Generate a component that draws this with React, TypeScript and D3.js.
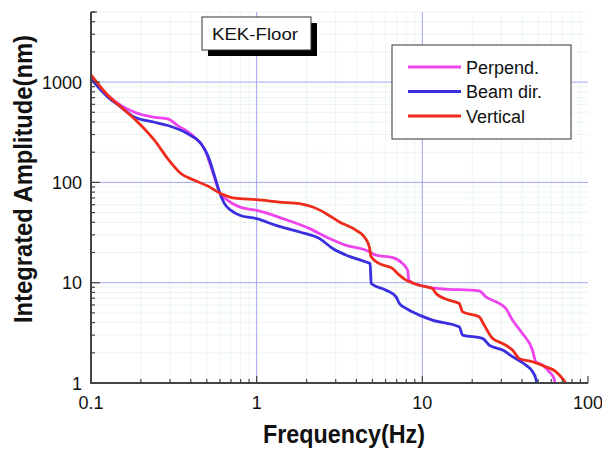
import React from "react";
import * as d3 from "d3";

// ---- Data ----
const perpFreq = [0.1, 0.1266, 0.1522, 0.1834, 0.242, 0.291, 0.334, 0.4215, 0.4842, 0.543, 0.596, 0.669, 0.768, 0.867, 1.0, 1.44, 2.09, 2.63, 3.47, 4.58, 5.26, 6.62, 7.61, 8.15, 8.3, 9.59, 12.7, 22.0, 24.2, 29.1, 31.9, 35.0, 40.2, 46.2, 48.4, 53.1, 58.2, 62.4, 63.1];
const perpAmp = [1116, 734, 583, 501, 446, 430, 369, 282, 216, 127, 80.1, 66.2, 58, 54.7, 52.6, 43.5, 34.6, 28.6, 23.6, 21.1, 18.8, 17.8, 15.5, 13.3, 10.6, 9.44, 8.75, 8.28, 7.22, 6.21, 5.54, 4.24, 3.12, 2.13, 1.63, 1.51, 1.3, 1.11, 1.0];

const beamFreq = [0.1, 0.1266, 0.1522, 0.1834, 0.242, 0.291, 0.384, 0.4617, 0.507, 0.556, 0.596, 0.639, 0.7, 0.79, 1.0, 1.31, 1.82, 2.4, 2.88, 3.47, 4.58, 4.84, 4.91, 6.04, 6.94, 7.27, 7.98, 9.59, 11.5, 16.7, 17.5, 23.1, 25.3, 30.5, 35.0, 42.1, 46.2, 48.4, 49.1];
const beamAmp = [1076, 706, 561, 446, 398, 369, 305, 243, 186, 117, 80.1, 61.4, 52.6, 47.0, 43.5, 37.3, 32.0, 27.5, 21.9, 18.8, 16.1, 15.5, 9.82, 8.42, 7.22, 6.21, 5.54, 4.75, 4.24, 3.63, 3.0, 2.79, 2.39, 2.13, 1.83, 1.51, 1.3, 1.11, 1.0];

const vertFreq = [0.1, 0.1266, 0.1522, 0.1919, 0.242, 0.291, 0.35, 0.4215, 0.507, 0.6095, 0.734, 1.0, 1.376, 1.816, 2.18, 2.63, 3.16, 3.99, 4.47, 4.79, 4.91, 5.51, 6.62, 7.27, 7.98, 9.59, 11.5, 12.1, 14.5, 16.7, 17.5, 22.0, 23.6, 26.5, 30.5, 35.0, 38.4, 46.2, 55.6, 63.9, 70.0, 73.4];
const vertAmp = [1179, 734, 561, 398, 262, 172, 122, 105, 91.9, 77.2, 69.8, 67.3, 63.7, 61.4, 56.8, 48.8, 40.3, 33.3, 28.6, 22.7, 18.1, 15.5, 13.8, 11.9, 10.6, 9.44, 8.75, 7.81, 6.7, 6.21, 5.12, 4.57, 3.78, 2.79, 2.48, 2.13, 1.76, 1.63, 1.45, 1.3, 1.11, 1.0];

const seriesNames = ["Perpend.", "Beam dir.", "Vertical"];
const seriesColors = ["#ee44ee", "#3a2fe0", "#ee2c1c"];

const xTickValues = [0.1, 1, 10, 100];
const xTickLabels = ["0.1", "1", "10", "100"];
const yTickValues = [1, 10, 100, 1000];
const yTickLabels = ["1", "10", "100", "1000"];

const xTitle = "Frequency(Hz)";
const yTitle = "Integrated Amplitude(nm)";
const boxLabel = "KEK-Floor";

export default function App() {
  const W = 602, H = 451;
  const left = 91, right = 588, top = 12, bottom = 383;
  const x = d3.scaleLog().domain([0.1, 100]).range([left, right]);
  const y = d3.scaleLog().domain([1, 5000]).range([bottom, top]);

  const xMinor = x.ticks().filter((v) => !xTickValues.some((m) => Math.abs(m - v) / m < 1e-6));
  const yMinor = y.ticks().filter((v) => !yTickValues.some((m) => Math.abs(m - v) / m < 1e-6));

  const line = d3
    .line<[number, number]>()
    .x((d) => x(d[0]))
    .y((d) => y(d[1]))
    .curve(d3.curveMonotoneX);

  const series = [
    { name: seriesNames[0], color: seriesColors[0], pts: perpFreq.map((f, i) => [f, perpAmp[i]] as [number, number]) },
    { name: seriesNames[1], color: seriesColors[1], pts: beamFreq.map((f, i) => [f, beamAmp[i]] as [number, number]) },
    { name: seriesNames[2], color: seriesColors[2], pts: vertFreq.map((f, i) => [f, vertAmp[i]] as [number, number]) },
  ];
  const font = "'Liberation Sans', Arial, Helvetica, sans-serif";
  const minorGrid = "#ebf7eb";
  const majorGrid = "#a4a4ee";
  const axisColor = "#444";

  return (
    <svg width={W} height={H} style={{ position: "absolute", left: 0, top: 0, background: "#fff" }} fontFamily={font}>
      <rect x={0} y={0} width={W} height={H} fill="#fff" />
      {/* minor grid */}
      {xMinor.map((v, i) => (
        <line key={"xm" + i} x1={x(v)} x2={x(v)} y1={top} y2={bottom} stroke={minorGrid} strokeWidth={1} />
      ))}
      {yMinor.map((v, i) => (
        <line key={"ym" + i} x1={left} x2={right} y1={y(v)} y2={y(v)} stroke={minorGrid} strokeWidth={1} />
      ))}
      {/* major grid */}
      {xTickValues.slice(1, 3).map((v, i) => (
        <line key={"xM" + i} x1={x(v)} x2={x(v)} y1={top} y2={bottom} stroke={majorGrid} strokeWidth={1} />
      ))}
      {yTickValues.slice(1).map((v, i) => (
        <line key={"yM" + i} x1={left} x2={right} y1={y(v)} y2={y(v)} stroke={majorGrid} strokeWidth={1} />
      ))}

      {/* KEK-Floor box */}
      <rect x={208} y={23} width={109} height={33} fill="#000" />
      <rect x={202} y={17} width={109} height={33} fill="#fff" stroke="#333" strokeWidth={1} />
      <text x={212} y={40} fontSize={16} fill="#111" textLength={86} lengthAdjust="spacingAndGlyphs">
        {boxLabel}
      </text>

      {/* curves */}
      {series.map((s) => (
        <path key={s.name} d={line(s.pts) || ""} fill="none" stroke={s.color} strokeWidth={2.8} strokeLinejoin="round" />
      ))}

      {/* axes */}
      <line x1={left} x2={left} y1={top} y2={bottom + 1} stroke={axisColor} strokeWidth={2} />
      <line x1={left - 1} x2={right} y1={bottom} y2={bottom} stroke={axisColor} strokeWidth={2} />
      {xMinor.map((v, i) => (
        <line key={"xt" + i} x1={x(v)} x2={x(v)} y1={bottom} y2={bottom - 4} stroke={axisColor} strokeWidth={1.2} />
      ))}
      {xTickValues.map((v, i) => (
        <line key={"xT" + i} x1={x(v)} x2={x(v)} y1={bottom} y2={bottom - 7} stroke={axisColor} strokeWidth={1.2} />
      ))}
      {yMinor.map((v, i) => (
        <line key={"yt" + i} x1={left} x2={left + 4} y1={y(v)} y2={y(v)} stroke={axisColor} strokeWidth={1.2} />
      ))}
      {yTickValues.map((v, i) => (
        <line key={"yT" + i} x1={left} x2={left + 9} y1={y(v)} y2={y(v)} stroke={axisColor} strokeWidth={1.2} />
      ))}
      <line x1={left} x2={left + 6} y1={top} y2={top} stroke={axisColor} strokeWidth={1.2} />

      {/* tick labels */}
      {xTickValues.map((v, i) => (
        <text key={"xl" + i} x={x(v)} y={409} fontSize={18} textAnchor="middle" fill="#111">
          {xTickLabels[i]}
        </text>
      ))}
      {yTickValues.map((v, i) => (
        <text key={"yl" + i} x={82} y={y(v) + 6.5} fontSize={18} textAnchor="end" fill="#111">
          {yTickLabels[i]}
        </text>
      ))}

      {/* axis titles */}
      <text x={263} y={443} fontSize={25} fontWeight="bold" fill="#111" textLength={162} lengthAdjust="spacingAndGlyphs">
        {xTitle}
      </text>
      <text
        transform={`translate(32,323) rotate(-90)`}
        fontSize={25}
        fontWeight="bold"
        fill="#111"
        textLength={288}
        lengthAdjust="spacingAndGlyphs"
      >
        {yTitle}
      </text>

      {/* legend */}
      <rect x={392} y={45} width={179} height={94} fill="#fff" stroke="#333" strokeWidth={1} />
      {series.map((s, i) => (
        <g key={"lg" + i}>
          <line x1={408} x2={461} y1={67 + i * 24.5} y2={67 + i * 24.5} stroke={s.color} strokeWidth={2.8} />
          <text x={466} y={67 + i * 24.5 + 6.5} fontSize={18} fill="#111">
            {s.name}
          </text>
        </g>
      ))}
    </svg>
  );
}
